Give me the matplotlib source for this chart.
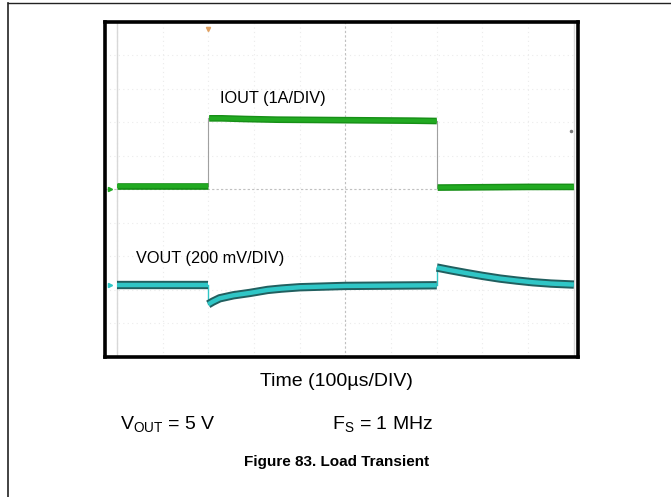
import matplotlib
matplotlib.use("Agg")
import matplotlib.pyplot as plt
from matplotlib.lines import Line2D

plt.rcParams['font.family'] = ['Liberation Sans', 'DejaVu Sans']
plt.rcParams['mathtext.fontset'] = 'custom'
plt.rcParams['mathtext.rm'] = 'Liberation Sans'
plt.rcParams['mathtext.it'] = 'Liberation Sans:italic'
plt.rcParams['mathtext.bf'] = 'Liberation Sans:bold'

# ---- data (time in divisions, amplitude in divisions) ----
iout_t_low1 = [0.0, 2.0]
iout_v_low1 = [0.10, 0.10]
iout_t_high = [2.02, 2.3, 2.8, 3.5, 4.5, 5.5, 6.5, 7.0]
iout_v_high = [2.12, 2.12, 2.10, 2.08, 2.07, 2.06, 2.05, 2.04]
iout_t_low2 = [7.02, 8.0, 9.0, 10.0]
iout_v_low2 = [0.05, 0.06, 0.07, 0.07]
iout_edge_t = [2.0, 2.0, 7.0, 7.0]
iout_edge_v = [0.10, 2.12, 2.04, 0.05]

vout_t_pre = [0.0, 2.0]
vout_v_pre = [-2.87, -2.87]
vout_t_dip = [2.0, 2.1, 2.25, 2.55, 2.91, 3.3, 3.6, 4.0, 5.0, 6.0, 7.0]
vout_v_dip = [-3.44, -3.36, -3.26, -3.17, -3.10, -3.01, -2.97, -2.93, -2.89, -2.88, -2.87]
vout_t_ovs = [7.0, 7.3, 7.66, 8.0, 8.38, 8.75, 9.1, 9.5, 10.0]
vout_v_ovs = [-2.34, -2.42, -2.51, -2.59, -2.67, -2.73, -2.78, -2.82, -2.85]
vout_edge_t = [2.0, 2.0, 7.0, 7.0]
vout_edge_v = [-2.87, -3.44, -2.87, -2.34]

iout_label = "IOUT (1A/DIV)"
vout_label = "VOUT (200 mV/DIV)"
xlabel = "Time (100µs/DIV)"
cond1 = r"V$_\mathrm{OUT}$ = 5 V"
cond2 = r"F$_\mathrm{S}$ = 1 MHz"
caption = "Figure 83. Load Transient"

W, H = 671, 497
fig = plt.figure(figsize=(W / 100, H / 100), dpi=100)

def fx(px):
    return px / W

def fy(py):
    return 1 - py / H

# outer page frame (top and left rule)
fig.add_artist(Line2D([fx(8), fx(671)], [fy(2.5), fy(2.5)], color='#222222', lw=1.0))
fig.add_artist(Line2D([fx(8), fx(8)], [fy(2.5), fy(497)], color='#222222', lw=1.2))

# scope axes
l, r, t, b = 104.5, 578, 22, 356.5
ax = fig.add_axes([fx(l), fy(b), (r - l) / W, (b - t) / H])
ax.set_xlim(-0.27, 10.09)
ax.set_ylim(-5.0, 5.0)
for s in ax.spines.values():
    s.set_linewidth(2.6)
    s.set_color('black')
ax.set_xticks([])
ax.set_yticks([])

# graticule
for xv in range(0, 11):
    ax.axvline(xv, color='#ebebeb', lw=0.8, ls=(0, (1, 3)), zorder=0)
for yv in range(-5, 6):
    ax.axhline(yv, color='#ebebeb', lw=0.8, ls=(0, (1, 3)), zorder=0)
ax.axvline(0, color='#d8d8d8', lw=1.0, zorder=0)
ax.axvline(10, color='#d8d8d8', lw=1.0, zorder=0)
ax.axvline(5, color='#c0c0c0', lw=0.8, ls=(0, (2, 2)), zorder=0)
ax.axhline(0, color='#c0c0c0', lw=0.8, ls=(0, (2, 2)), zorder=0)

# IOUT trace
green_dark = '#178f17'
green = '#22aa22'
ax.plot(iout_edge_t[:2], iout_edge_v[:2], color='#a0a0a0', lw=0.8, zorder=2)
ax.plot(iout_edge_t[2:], iout_edge_v[2:], color='#a0a0a0', lw=0.8, zorder=2)
for tt, vv in [(iout_t_low1, iout_v_low1), (iout_t_high, iout_v_high), (iout_t_low2, iout_v_low2)]:
    ax.plot(tt, vv, color=green_dark, lw=4.8, solid_capstyle='butt', zorder=3)
    ax.plot(tt, vv, color=green, lw=2.8, solid_capstyle='butt', zorder=4)

# VOUT trace
teal_dark = '#215f5f'
teal = '#2fc6c6'
ax.plot(vout_edge_t[:2], vout_edge_v[:2], color=teal, lw=1.0, zorder=2)
ax.plot(vout_edge_t[2:], vout_edge_v[2:], color=teal, lw=1.0, zorder=2)
for tt, vv in [(vout_t_pre, vout_v_pre), (vout_t_dip, vout_v_dip), (vout_t_ovs, vout_v_ovs)]:
    ax.plot(tt, vv, color=teal_dark, lw=6.0, solid_capstyle='butt', zorder=3)
    ax.plot(tt, vv, color=teal, lw=3.2, solid_capstyle='butt', zorder=4)

# small scope markers
ax.plot([2.0], [4.8], marker='v', ms=3, color='#e0a060', zorder=5)
ax.plot([-0.15], [0.02], marker='>', ms=3, color=green, zorder=5)
ax.plot([-0.15], [-2.87], marker='>', ms=3, color=teal, zorder=5)
ax.plot([9.93], [1.73], marker='o', ms=1.5, color='#777777', zorder=5)

# labels inside the scope
fig.text(fx(220), fy(99), iout_label, fontsize=11.7, ha='left', va='center', color='black')
fig.text(fx(136), fy(258), vout_label, fontsize=11.7, ha='left', va='center', color='black')

# texts below
fig.text(fx(336), fy(382), xlabel, fontsize=14, ha='center', va='center')
fig.text(fx(120), fy(429), cond1, fontsize=14, ha='left', va='baseline')
fig.text(fx(332), fy(429), cond2, fontsize=14, ha='left', va='baseline')
fig.text(fx(337), fy(462), caption, fontsize=11, ha='center', va='center', fontweight='bold')

fig.savefig('out.png', dpi=100)
